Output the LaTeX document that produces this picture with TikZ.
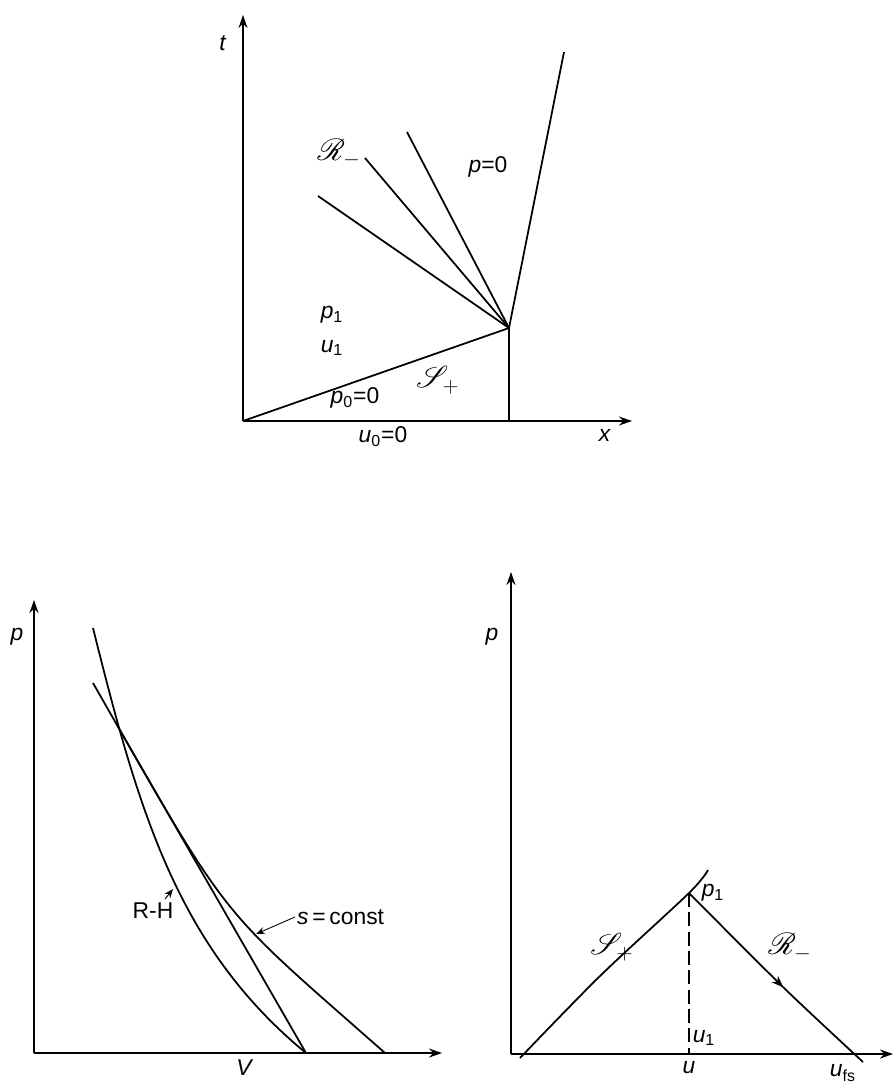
\documentclass[tikz,border=0pt]{standalone}
\usepackage{fontspec}
\setmainfont{Liberation Sans}
\usepackage{mathrsfs}
\usetikzlibrary{arrows.meta, positioning, decorations.markings, intersections}

\newcommand{\va}[1]{\textit{#1}}

\begin{document}
\begin{tikzpicture}[
        x=0.02cm, y=-0.02cm,
        eje/.style={
            -{Stealth[length=2.6mm,width=1.8mm]},
            line width=0.6pt
        },
        curva/.style={
            line width=1pt
        },
        rotulo/.style={
            font=\fontsize{13}{15}\selectfont,
            inner sep=1pt
        },
        caligrafico/.style={
            font=\fontsize{18}{20}\selectfont,
            inner sep=1pt
        },
        guia/.style={
            -{Stealth[length=1.8mm,width=1.4mm]},
            line width=0.5pt
        },
        flechamedia/.style={
            postaction={decorate},
            decoration={markings,
                mark=at position 0.55 with {\arrow{Stealth[length=2.4mm,width=1.8mm]}}}
        }
    ]

    \useasboundingbox (0,0) rectangle (894,1083);

    \coordinate (origen) at (243,421);
    \coordinate (ejet) at (243,15);
    \coordinate (ejex) at (632,421);
    \coordinate (nudo) at (509,328);
    \coordinate (pie) at (509,421);
    \coordinate (contacto) at (564,52);

    \draw[eje] (origen) -- (ejet);
    \draw[eje] (origen) -- (ejex);

    \draw[curva] (origen) -- (nudo) -- (pie);
    \draw[curva] (nudo) -- (contacto);

    \foreach \i/\px/\py in {1/318/196, 2/365/158, 3/407/132} {
        \coordinate (abanico\i) at (\px,\py);
        \draw[curva] (nudo) -- (abanico\i);
    }

    \node[rotulo] (lt) at (223,43) {\va{t}};
    \node[rotulo] (lx) at (605,435) {\va{x}};
    \node[caligrafico] (lrarr) at (339,153) {$\mathscr{R}_{-}$};
    \node[rotulo] (lpcero) at (488,167) {\va{p}=0};
    \node[rotulo] (lpuno) at (332,315) {\va{p}\textsubscript{1}};
    \node[rotulo] (luuno) at (332,348) {\va{u}\textsubscript{1}};
    \node[caligrafico] (lsarr) at (438,380) {$\mathscr{S}_{+}$};
    \node[rotulo] (lpo) at (355,398) {\va{p}\textsubscript{0}=0};
    \node[rotulo] (luo) at (383,437) {\va{u}\textsubscript{0}=0};

    \coordinate (origenpv) at (34,1053);
    \coordinate (ejep) at (34,600);
    \coordinate (ejev) at (442,1053);
    \coordinate (vcero) at (306,1053);

    \draw[eje] (origenpv) -- (ejep);
    \draw[eje] (origenpv) -- (ejev);

    \draw[curva, name path=rh] (93,628) .. controls (138,808) and (176,946) .. (vcero);
    \draw[curva, name path=isentropa] (93,683) .. controls (233,928) and (215,903) .. (385,1053);
    \path[name intersections={of=rh and isentropa, by=corte}];
    \draw[curva] (corte) -- (vcero);

    \node[rotulo] (lp) at (17,637) {\va{p}};
    \node[rotulo] (lv) at (245,1068) {\va{V}};
    \node[rotulo] (lrh) at (153,911) {R-H};
    \node[rotulo, anchor=west] (lsconst) at (295,917) {\va{s}\,=\,const};
    \coordinate (prh) at (173,889);
    \coordinate (psc) at (256,934);
    \draw[guia] (165,899) -- (prh);
    \draw[guia] (lsconst.west) -- (psc);

    \coordinate (origenpu) at (511,1054);
    \coordinate (ejepu) at (511,572);
    \coordinate (ejeu) at (893,1054);
    \coordinate (cima) at (689,893);
    \coordinate (base) at (689,1054);

    \draw[eje] (origenpu) -- (ejepu);
    \draw[eje] (origenpu) -- (ejeu);

    \draw[curva] plot[smooth] coordinates {(520,1058) (600,976) (cima) (708,870)};
    \draw[curva, flechamedia] plot[smooth] coordinates {(cima) (783,987) (863,1062)};
    \draw[curva, dash pattern=on 8pt off 3pt] (cima) -- (base);

    \node[rotulo] (lpu) at (492,637) {\va{p}};
    \node[rotulo] (lpuno2) at (713,893) {\va{p}\textsubscript{1}};
    \node[caligrafico] (lsarr2) at (612,947) {$\mathscr{S}_{+}$};
    \node[caligrafico] (lrarr2) at (790,947) {$\mathscr{R}_{-}$};
    \node[rotulo] (luuno2) at (704,1038) {\va{u}\textsubscript{1}};
    \node[rotulo] (lu) at (689,1068) {\va{u}};
    \node[rotulo] (lufs) at (843,1073) {\va{u}\textsubscript{fs}};

\end{tikzpicture}
\end{document}
